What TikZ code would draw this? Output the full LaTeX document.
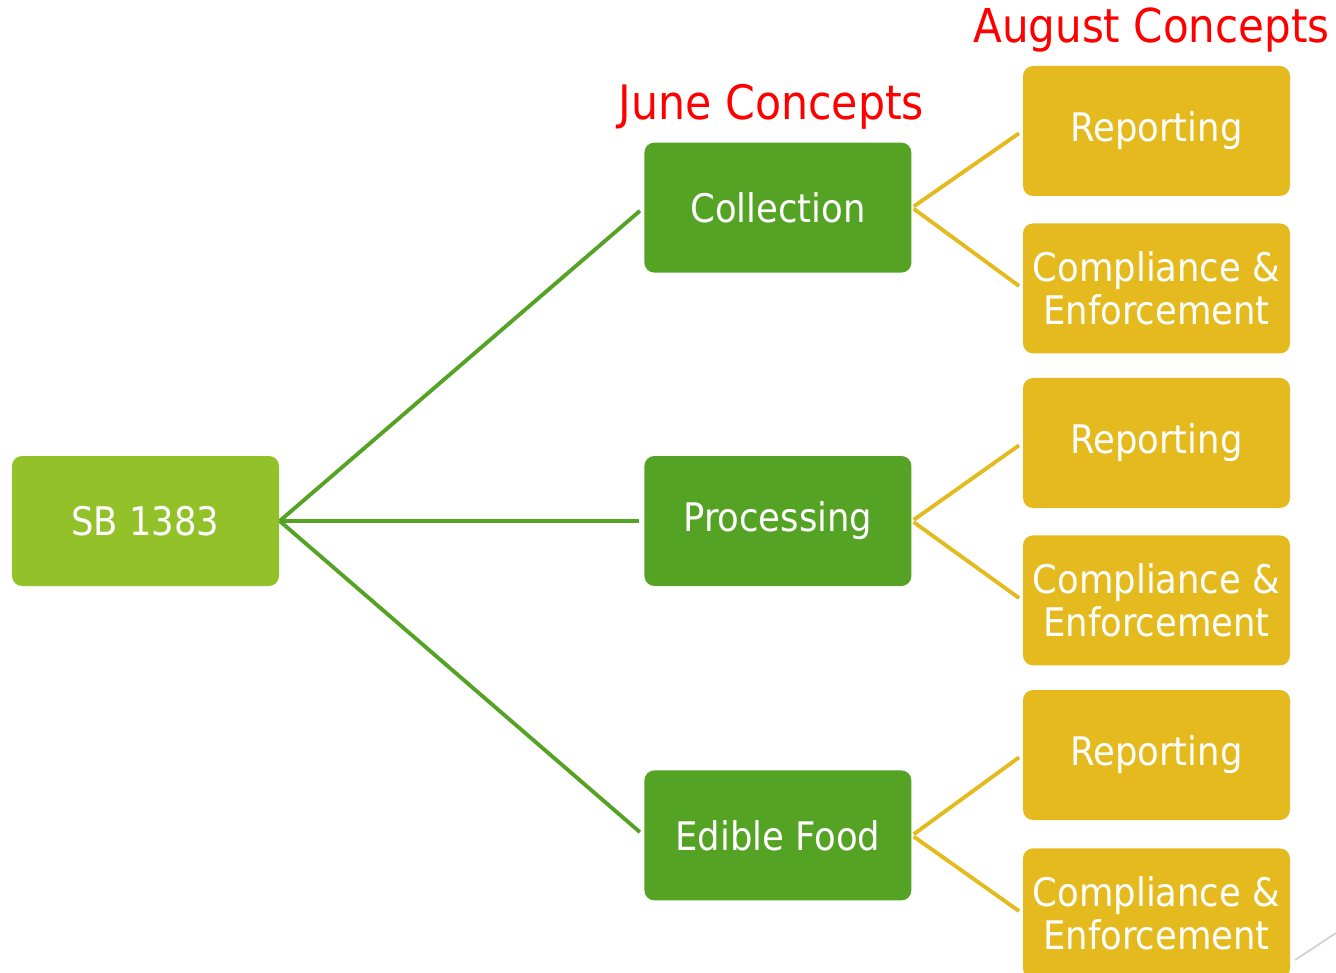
\documentclass[tikz,border=0pt]{standalone}
\usepackage{fontspec}
\setmainfont{DejaVu Sans Condensed}
\usepackage{tikz}
\usetikzlibrary{positioning}
\definecolor{sbgreen}{HTML}{92C12A}
\definecolor{midgreen}{HTML}{55A325}
\definecolor{gold}{HTML}{E5BA1F}

\begin{document}
\begin{tikzpicture}[node distance=1cm,every node/.style={rounded corners=0.1cm,minimum width=2.67cm,minimum height=1.3cm,inner sep=0pt,align=center,text=white,font=\fontsize{11.2}{12}\selectfont}]
  \useasboundingbox (0,0) rectangle (13.36,-9.73);
  \node[fill=sbgreen] (sb) at (1.455,-5.21){SB 1383};
  \node[fill=midgreen,right =3.64cm of sb] (proc){Processing};
  \node[fill=midgreen,above =1.82cm of proc] (coll){Collection};
  \node[fill=midgreen,below =1.83cm of proc] (food){Edible Food};

  \node[fill=gold] (rep1) at (11.565,-1.31){Reporting};
  \node[fill=gold,below =0.26cm of rep1] (comp1){Compliance \&\\Enforcement};
  \node[fill=gold] (rep2) at (11.565,-4.43){Reporting};
  \node[fill=gold,below =0.26cm of rep2] (comp2){Compliance \&\\Enforcement};
  \node[fill=gold] (rep3) at (11.565,-7.55){Reporting};
  \node[fill=gold,below =0.27cm of rep3] (comp3){Compliance \&\\Enforcement};

  \node[text=red,anchor=base,minimum width=0pt,minimum height=0pt,font=\fontsize{13.5}{16}\selectfont] (june) at (7.715,-1.20){June Concepts};
  \node[text=red,anchor=base,minimum width=0pt,minimum height=0pt,font=\fontsize{13.3}{16}\selectfont] (aug) at (11.515,-0.43){August Concepts};

  \draw[midgreen,line width=1.1pt,shorten >=0.05cm](sb.east)--(coll.west);
  \draw[midgreen,line width=1.1pt,shorten >=0.05cm](sb.east)--(proc.west);
  \draw[midgreen,line width=1.1pt,shorten >=0.05cm](sb.east)--(food.west);
  \draw[gold,line width=1.1pt,shorten <=0.02cm,shorten >=0.04cm](coll.east)--(rep1.west);
  \draw[gold,line width=1.1pt,shorten <=0.02cm,shorten >=0.04cm](coll.east)--(comp1.west);
  \draw[gold,line width=1.1pt,shorten <=0.02cm,shorten >=0.04cm](proc.east)--(rep2.west);
  \draw[gold,line width=1.1pt,shorten <=0.02cm,shorten >=0.04cm](proc.east)--(comp2.west);
  \draw[gold,line width=1.1pt,shorten <=0.02cm,shorten >=0.04cm](food.east)--(rep3.west);
  \draw[gold,line width=1.1pt,shorten <=0.02cm,shorten >=0.04cm](food.east)--(comp3.west);

  \coordinate (g1) at (12.95,-9.60);
  \coordinate (g2) at (13.36,-9.33);
  \draw[black!18,line width=0.5pt](g1)--(g2);
  \end{tikzpicture}
\end{document}
